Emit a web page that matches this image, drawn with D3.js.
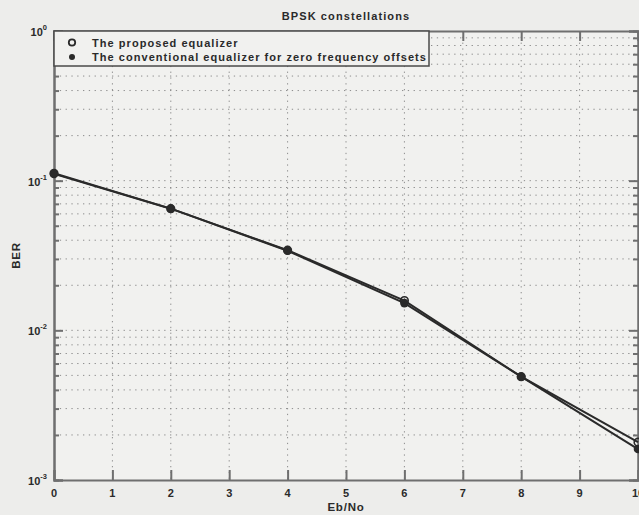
<!DOCTYPE html>
<html>
<head>
<meta charset="utf-8">
<script src="https://cdn.jsdelivr.net/npm/d3@7/dist/d3.min.js"></script>
<style>
  html, body { margin: 0; padding: 0; background: #ededeb; }
  svg { display: block; font-family: "Liberation Sans", Arial, sans-serif; }
</style>
</head>
<body>
<svg id="chart" width="639" height="515"></svg>
<script>
// BER vs Eb/No for the two equalizers (BPSK)
const ebno = [0, 2, 4, 6, 8, 10];
const berProposed = [0.112, 0.065, 0.0343, 0.0158, 0.0049, 0.00179];
const berConventional = [0.111, 0.065, 0.0340, 0.0152, 0.0049, 0.00161];
const xTicks = [0, 1, 2, 3, 4, 5, 6, 7, 8, 9, 10];
const yDecades = [-3, -2, -1, 0];
const seriesNames = ["The proposed equalizer", "The conventional equalizer for zero frequency offsets"];
const titleText = "BPSK constellations";
const xLabel = "Eb/No";
const yLabel = "BER";

const svg = d3.select("#chart");
const plotL = 54, plotR = 638, plotT = 31, plotB = 480;

const x = d3.scaleLinear().domain([0, 10]).range([plotL, plotR]);
const y = d3.scaleLog().domain([1e-3, 1]).range([plotB, plotT]);

const ink = "#2a2a2a";
const axisCol = "#6f6f6f";
const gridCol = "#8c8c8c";

// plot area
svg.append("rect").attr("x", plotL).attr("y", plotT)
  .attr("width", plotR - plotL).attr("height", plotB - plotT)
  .attr("fill", "#f1f1ef");

// grid values: majors plus minor log steps
const minorVals = [];
for (let d = -3; d < 0; d++) {
  for (let m = 2; m <= 9; m++) minorVals.push(m * Math.pow(10, d));
}
const majorVals = yDecades.map(d => Math.pow(10, d));

const grid = svg.append("g");
grid.selectAll("line.hg").data(minorVals.concat(majorVals.slice(1, 3)))
  .join("line")
  .attr("x1", plotL).attr("x2", plotR)
  .attr("y1", d => y(d)).attr("y2", d => y(d))
  .attr("stroke", gridCol).attr("stroke-width", 1)
  .attr("stroke-dasharray", "1.3,4.5");
grid.selectAll("line.vg").data(xTicks.slice(1, -1))
  .join("line")
  .attr("x1", d => x(d)).attr("x2", d => x(d))
  .attr("y1", plotT).attr("y2", plotB)
  .attr("stroke", gridCol).attr("stroke-width", 1)
  .attr("stroke-dasharray", "1.3,4.5");

// axes built from d3 axes, ticks pointing inward
const xAxisB = d3.axisBottom(x).tickValues(xTicks).tickSize(-10).tickFormat("");
const xAxisT = d3.axisTop(x).tickValues(xTicks).tickSize(-10).tickFormat("");
const yMajL = d3.axisLeft(y).tickValues(majorVals).tickSize(-9).tickFormat("");
const yMajR = d3.axisRight(y).tickValues(majorVals).tickSize(-9).tickFormat("");
const yMinL = d3.axisLeft(y).tickValues(minorVals).tickSize(-5).tickFormat("");
const yMinR = d3.axisRight(y).tickValues(minorVals).tickSize(-5).tickFormat("");

function styleAxis(g) {
  g.selectAll("path").attr("stroke", axisCol).attr("stroke-width", 2);
  g.selectAll(".tick line").attr("stroke", axisCol).attr("stroke-width", 2);
}
svg.append("g").attr("transform", `translate(0,${plotB})`).call(xAxisB).call(styleAxis);
svg.append("g").attr("transform", `translate(0,${plotT})`).call(xAxisT).call(styleAxis);
svg.append("g").attr("transform", `translate(${plotL},0)`).call(yMajL).call(styleAxis);
svg.append("g").attr("transform", `translate(${plotR},0)`).call(yMajR).call(styleAxis);
svg.append("g").attr("transform", `translate(${plotL},0)`).call(yMinL).call(styleAxis);
svg.append("g").attr("transform", `translate(${plotR},0)`).call(yMinR).call(styleAxis);

// tick labels
svg.append("g").selectAll("text").data(xTicks).join("text")
  .attr("x", d => x(d)).attr("y", plotB + 17)
  .attr("text-anchor", "middle")
  .attr("font-size", 11).attr("font-weight", "bold").attr("fill", ink)
  .text(d => d);

const yl = svg.append("g").selectAll("text").data(yDecades).join("text")
  .attr("x", plotL - 7).attr("y", d => y(Math.pow(10, d)) + 5)
  .attr("text-anchor", "end")
  .attr("font-size", 11).attr("font-weight", "bold").attr("fill", ink);
yl.append("tspan").text("10");
yl.append("tspan").attr("dy", -6).attr("font-size", 7.5).text(d => d);

// titles
svg.append("text").attr("x", (plotL + plotR) / 2).attr("y", 20)
  .attr("text-anchor", "middle").attr("font-size", 11).attr("font-weight", "bold")
  .attr("letter-spacing", 1.1)
  .attr("fill", ink).text(titleText);
svg.append("text").attr("x", (plotL + plotR) / 2).attr("y", 511)
  .attr("text-anchor", "middle").attr("font-size", 11.5).attr("font-weight", "bold")
  .attr("letter-spacing", 0.8)
  .attr("fill", ink).text(xLabel);
svg.append("text").attr("transform", `translate(20,${(plotT + plotB) / 2}) rotate(-90)`)
  .attr("text-anchor", "middle").attr("font-size", 11.5).attr("font-weight", "bold")
  .attr("letter-spacing", 0.8)
  .attr("fill", ink).text(yLabel);

// data lines
const line = d3.line().x(d => x(d[0])).y(d => y(d[1]));
const conv = ebno.map((e, i) => [e, berConventional[i]]);
const prop = ebno.map((e, i) => [e, berProposed[i]]);

const plot = svg.append("g");
plot.append("path").datum(conv).attr("d", line)
  .attr("fill", "none").attr("stroke", ink).attr("stroke-width", 2);
plot.append("path").datum(prop).attr("d", line)
  .attr("fill", "none").attr("stroke", ink).attr("stroke-width", 2);
plot.selectAll("circle.conv").data(conv).join("circle")
  .attr("cx", d => x(d[0])).attr("cy", d => y(d[1])).attr("r", 4.3)
  .attr("fill", ink);
plot.selectAll("circle.prop").data(prop).join("circle")
  .attr("cx", d => x(d[0])).attr("cy", d => y(d[1])).attr("r", 3.8)
  .attr("fill", "none").attr("stroke", ink).attr("stroke-width", 1.6);

// legend
const lg = svg.append("g");
lg.append("rect").attr("x", plotL).attr("y", plotT).attr("width", 375).attr("height", 35)
  .attr("fill", "#f1f1ef").attr("stroke", "#4a4a4a").attr("stroke-width", 1.5);
lg.append("circle").attr("cx", 72).attr("cy", 42.5).attr("r", 3.2)
  .attr("fill", "none").attr("stroke", ink).attr("stroke-width", 1.8);
lg.append("circle").attr("cx", 72).attr("cy", 57).attr("r", 3)
  .attr("fill", ink);
lg.selectAll("text").data(seriesNames).join("text")
  .attr("x", 92).attr("y", (d, i) => 46.5 + i * 14.5)
  .attr("font-size", 11).attr("font-weight", "bold").attr("fill", ink)
  .attr("letter-spacing", 1.05)
  .text(d => d);
</script>
</body>
</html>
